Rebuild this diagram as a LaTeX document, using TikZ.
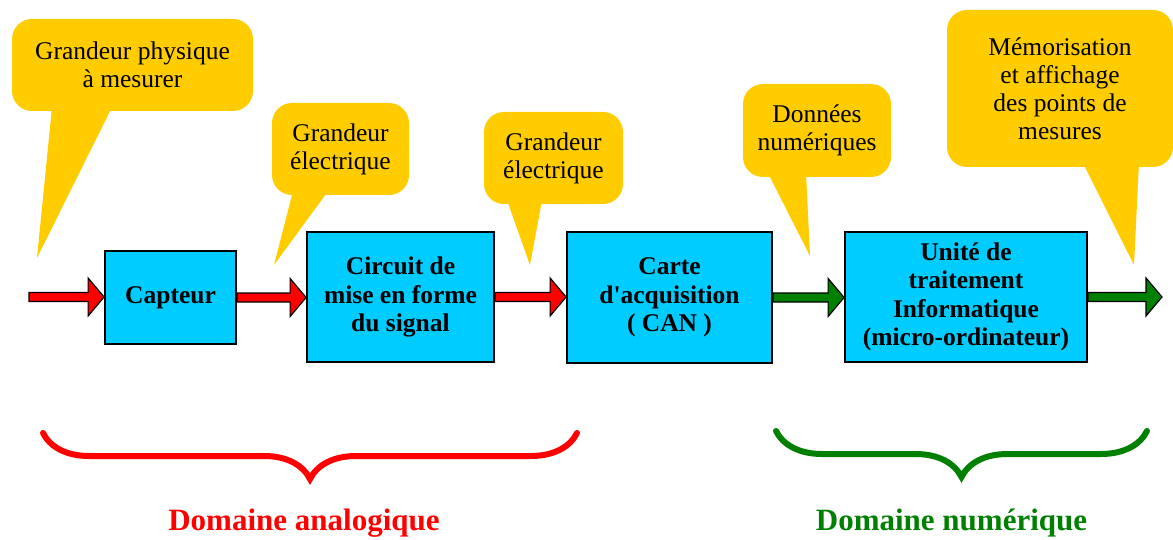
\documentclass[tikz,border=0pt]{standalone}
\usepackage{fontspec}
\setmainfont{Liberation Serif}
\usetikzlibrary{calc, decorations.pathreplacing}
\definecolor{blockblue}{RGB}{0,204,255}
\definecolor{bubbleyellow}{RGB}{255,204,0}
\definecolor{digitgreen}{RGB}{0,128,0}

\begin{document}
\begin{tikzpicture}[x=1pt, y=-1pt,
        blocknode/.style={rectangle, draw=black, line width=1.8pt, fill=blockblue, align=center, inner sep=0pt, font=\fontsize{25.5}{28.5}\selectfont\bfseries},
        bubble/.style={rectangle, fill=bubbleyellow, rounded corners=20pt, align=center, inner sep=0pt, font=\fontsize{25.5}{28}\selectfont},
        tail/.style={fill=bubbleyellow},
        flowarrow/.style={draw=black, line width=1.2pt, to path={let \p1=(\tikztostart), \p2=(\tikztotarget) in (\x1,\y1+4.5pt) -- (\x2-16pt,\y1+4.5pt) -- (\x2-16pt,\y1+19pt) -- (\x2,\y1) -- (\x2-16pt,\y1-19pt) -- (\x2-16pt,\y1-4.5pt) -- (\x1,\y1-4.5pt) -- cycle}},
        analog/.style={flowarrow, fill=red},
        digital/.style={flowarrow, fill=digitgreen},
        domainbrace/.style={decorate, decoration={brace, mirror, amplitude=46pt}, line width=6pt, line cap=round},
        domlabel/.style={anchor=base, font=\fontsize{31}{36}\selectfont\bfseries}
    ]
        \useasboundingbox (0,0) rectangle (1173,540);
        % Callouts
        \node[bubble, minimum width=241, minimum height=92] (grandeur) at (132.5,65) {Grandeur physique\\à mesurer};
        \coordinate (pgrandeur) at (37,258);
        \fill[tail] ($(grandeur.south)+(-80.5,-4)$) -- (pgrandeur) -- ($(grandeur.south)+(-20.5,-4)$) -- cycle;
        \node[bubble, minimum width=137, minimum height=92] (elec1) at (340.5,149) {Grandeur\\électrique};
        \coordinate (pelec1) at (274,265);
        \fill[tail] ($(elec1.south)+(-47.5,-4)$) -- (pelec1) -- ($(elec1.south)+(-12.5,-4)$) -- cycle;
        \node[bubble, minimum width=139, minimum height=92] (elec2) at (553.5,158) {Grandeur\\électrique};
        \coordinate (pelec2) at (530,265);
        \fill[tail] ($(elec2.south)+(-46.5,-4)$) -- (pelec2) -- ($(elec2.south)+(-11.5,-4)$) -- cycle;
        \node[bubble, minimum width=148, minimum height=93] (donnees) at (817,130.5) {Données\\numériques};
        \coordinate (pdonnees) at (810,256);
        \fill[tail] ($(donnees.south)+(-49,-4)$) -- (pdonnees) -- ($(donnees.south)+(-11,-4)$) -- cycle;
        \node[bubble, minimum width=226, minimum height=157] (memo) at (1060,88.5) {Mémorisation\\et affichage\\des points de\\mesures};
        \coordinate (pmemo) at (1134,265);
        \fill[tail] ($(memo.south)+(23,-4)$) -- (pmemo) -- ($(memo.south)+(79,-4)$) -- cycle;
        % Blocks
        \node[blocknode, minimum width=131, minimum height=93] (capteur) at (170.5,297.5) {Capteur};
        \node[blocknode, minimum width=187, minimum height=130] (circuit) at (400.5,297) {Circuit de\\mise en forme\\du signal};
        \node[blocknode, minimum width=205, minimum height=131] (carte) at (669.5,297.5) {Carte\\d\textquotesingle acquisition\\( CAN )};
        \node[blocknode, minimum width=242, minimum height=130] (unite) at (966,297) {Unité de\\traitement\\Informatique\\(micro-ordinateur)};
        % Arrows
        \coordinate (entree) at (29,297);
        \coordinate (sortie) at (1162,297);
        \draw[analog] (entree) to (capteur.west);
        \draw[analog] (capteur.east) to (circuit.west);
        \draw[analog] (circuit.east) to (carte.west);
        \draw[digital] (carte.east) to (unite.west);
        \draw[digital] (unite.east) to (sortie);
        % Domains
        \coordinate (anag) at (43,433);
        \coordinate (anad) at (577,433);
        \draw[domainbrace, red] (anag) -- (anad);
        \node[domlabel, text=red] (analogique) at (304,530) {Domaine analogique};
        \coordinate (numg) at (776,431);
        \coordinate (numd) at (1147,431);
        \draw[domainbrace, digitgreen] (numg) -- (numd);
        \node[domlabel, text=digitgreen] (numerique) at (951.5,530) {Domaine numérique};
    \end{tikzpicture}
\end{document}
